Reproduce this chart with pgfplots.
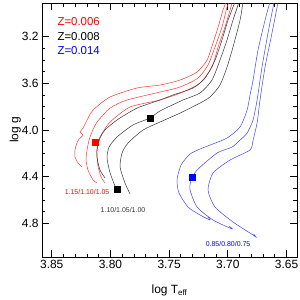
\documentclass[border=0pt]{standalone}
\usepackage{fontspec}
\setmainfont{Liberation Sans}
\usepackage{pgfplots}
\pgfplotsset{compat=1.18}
\begin{document}
\begin{tikzpicture}
\begin{axis}[
  scale only axis, width=255bp, height=254bp,
  x dir=reverse, y dir=reverse,
  xmin=3.6411, xmax=3.8583, ymin=2.911, ymax=5.087,
  xtick={3.65,3.70,3.75,3.80,3.85}, minor x tick num=4,
  ytick={3.2,3.6,4.0,4.4,4.8}, minor y tick num=3,
  xticklabel style={/pgf/number format/.cd,fixed,fixed zerofill,precision=2},
  yticklabel style={/pgf/number format/.cd,fixed,fixed zerofill,precision=1},
  /pgf/number format/assume math mode=true,
  tick align=inside, ticks=both, tick pos=both,
  major tick length=7bp, minor tick length=3.5bp,
  tick style={black, line width=0.8pt},
  axis line style={line width=0.9pt},
  ticklabel style={font=\fontsize{12}{14}\selectfont},
  xlabel={log T\textsubscript{eff}}, ylabel={log g},
  label style={font=\fontsize{12}{14}\selectfont},
  xlabel style={at={(axis description cs:0.5,-0.095)}, anchor=north},
  ylabel style={at={(axis description cs:-0.105,0.5)}, anchor=center},
  every axis plot/.append style={line width=0.5pt},
  clip=true,
]
% red Z=0.006
\addplot[red!80, smooth, tension=0.4] coordinates {
(3.8242,4.316)(3.8276,4.282)(3.8302,4.230)(3.8302,4.170)(3.8285,4.110)(3.8267,4.076)(3.8233,4.042)(3.8259,4.016)(3.8233,3.982)(3.8208,3.931)(3.8148,3.828)(3.8003,3.716)(3.7773,3.639)(3.7578,3.614)(3.7407,3.571)(3.7262,3.502)(3.7177,3.400)(3.7126,3.254)(3.7083,3.117)(3.7041,2.971)(3.7015,2.903)};
\addplot[red!80, smooth, tension=0.4] coordinates {
(3.8114,4.453)(3.8148,4.427)(3.8191,4.342)(3.8208,4.256)(3.8199,4.170)(3.8182,4.085)(3.8157,4.016)(3.8114,3.931)(3.8003,3.811)(3.7859,3.742)(3.7578,3.674)(3.7407,3.631)(3.7254,3.554)(3.7169,3.442)(3.7109,3.288)(3.7050,3.117)(3.7007,2.946)(3.6990,2.903)};
\addplot[red!80, smooth, tension=0.4] coordinates {
(3.8046,4.453)(3.8080,4.402)(3.8106,4.308)(3.8114,4.213)(3.8114,4.153)(3.8089,4.059)(3.8003,3.931)(3.7833,3.802)(3.7578,3.742)(3.7382,3.674)(3.7237,3.597)(3.7135,3.460)(3.7083,3.288)(3.7024,3.117)(3.6964,2.911)};
% black Z=0.008
\addplot[black!80, smooth, tension=0.4] coordinates {
(3.8046,4.410)(3.8089,4.342)(3.8114,4.239)(3.8114,4.170)(3.8089,4.068)(3.8046,3.999)(3.7944,3.913)(3.7773,3.811)(3.7578,3.742)(3.7467,3.699)(3.7296,3.639)(3.7194,3.554)(3.7109,3.400)(3.7050,3.228)(3.6998,3.057)(3.6939,2.903)};
\addplot[black!80, smooth, tension=0.4] coordinates {
(3.7961,4.479)(3.8003,4.367)(3.8029,4.239)(3.8012,4.145)(3.7944,4.059)(3.7808,3.956)(3.7663,3.896)(3.7578,3.836)(3.7382,3.742)(3.7237,3.682)(3.7135,3.571)(3.7067,3.400)(3.7007,3.228)(3.6956,3.057)(3.6905,2.903)};
\addplot[black!80, smooth, tension=0.4] coordinates {
(3.7833,4.547)(3.7876,4.453)(3.7918,4.316)(3.7901,4.196)(3.7850,4.110)(3.7722,3.999)(3.7578,3.931)(3.7407,3.854)(3.7237,3.768)(3.7152,3.716)(3.7067,3.614)(3.7007,3.460)(3.6956,3.288)(3.6896,3.057)(3.6871,2.903)};
% blue Z=0.014
\addplot[blue!75, smooth, tension=0.4] coordinates {
(3.7170,4.745)(3.7152,4.770)(3.7237,4.727)(3.7339,4.659)(3.7416,4.539)(3.7433,4.427)(3.7399,4.299)(3.7322,4.205)(3.7237,4.162)(3.7152,4.128)(3.7007,4.068)(3.6896,3.973)(3.6836,3.828)(3.6811,3.699)(3.6785,3.571)(3.6743,3.314)(3.6683,3.057)(3.6641,2.903)};
\addplot[blue!75, smooth, tension=0.4] coordinates {
(3.6990,4.822)(3.6964,4.847)(3.7126,4.770)(3.7262,4.659)(3.7322,4.513)(3.7313,4.427)(3.7262,4.342)(3.7092,4.196)(3.6964,4.145)(3.6896,4.085)(3.6836,4.025)(3.6785,3.913)(3.6751,3.742)(3.6709,3.460)(3.6658,3.168)(3.6606,2.903)};
\addplot[blue!75, smooth, tension=0.4] coordinates {
(3.6780,4.890)(3.6760,4.916)(3.6785,4.899)(3.6956,4.787)(3.7109,4.659)(3.7169,4.513)(3.7126,4.367)(3.6981,4.256)(3.6811,4.170)(3.6785,4.085)(3.6751,3.939)(3.6726,3.742)(3.6683,3.460)(3.6624,3.168)(3.6572,2.903)};
% squares
\addplot[only marks, mark=square*, mark size=3bp, red] coordinates {(3.8131,4.102)};
\addplot[only marks, mark=square*, mark size=3bp, black] coordinates {(3.7944,4.504)(3.7663,3.896)};
\addplot[only marks, mark=square*, mark size=3bp, blue] coordinates {(3.7305,4.402)};
% legend texts
\node[anchor=west, red, font=\fontsize{11.5}{13}\selectfont] at (axis description cs:0.047,0.925) {Z=0.006};
\node[anchor=west, black, font=\fontsize{11.5}{13}\selectfont] at (axis description cs:0.047,0.869) {Z=0.008};
\node[anchor=west, blue, font=\fontsize{11.5}{13}\selectfont] at (axis description cs:0.047,0.811) {Z=0.014};
\node[red, font=\fontsize{7}{8}\selectfont] at (axis cs:3.8199,4.530) {1.15/1.10/1.05};
\node[black!80, font=\fontsize{7}{8}\selectfont] at (axis cs:3.7893,4.684) {1.10/1.05/1.00};
\node[blue, font=\fontsize{7}{8}\selectfont] at (axis cs:3.6998,4.976) {0.85/0.80/0.75};
\end{axis}
\pgfresetboundingbox
\path (current axis.south west) ++(-42bp,-43bp) rectangle ++(300bp,300bp);
\end{tikzpicture}
\end{document}
